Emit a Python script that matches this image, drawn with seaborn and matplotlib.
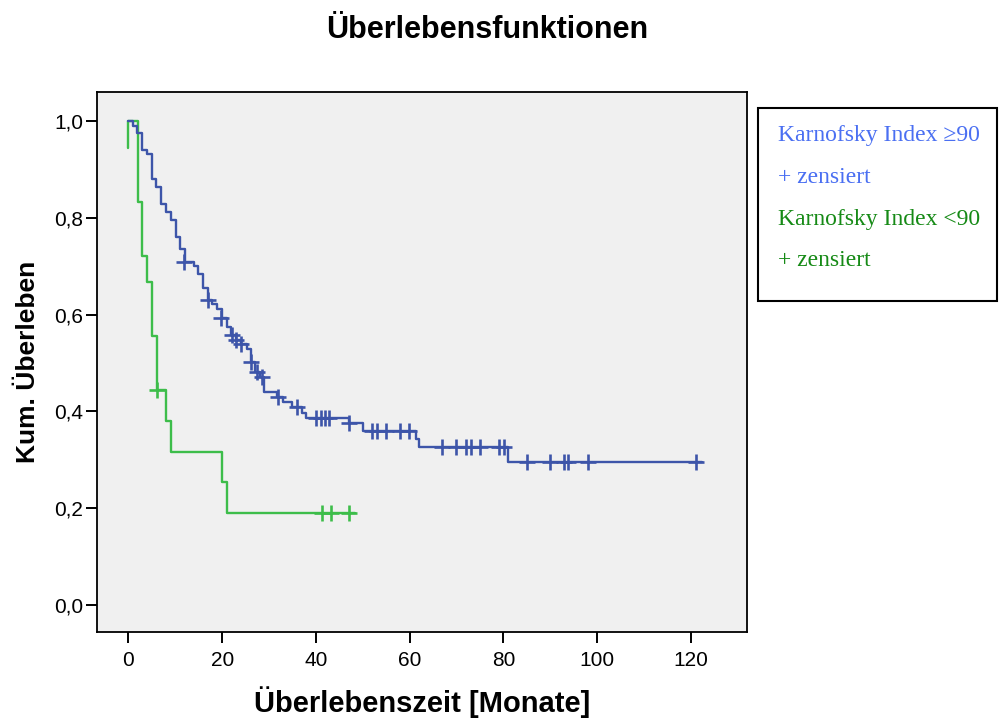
import matplotlib
matplotlib.use("Agg")
import matplotlib.pyplot as plt
from matplotlib.patches import Rectangle
import seaborn as sns
import pandas as pd

# Kaplan-Meier step curve, Karnofsky Index >= 90 (time in months, cumulative survival)
high_time = [0, 0.9, 1.9, 3.0, 3.9, 5.0, 5.9, 6.9, 8.0, 9.1, 10.1, 11.1, 12.0, 13.9, 14.8,
             15.9, 16.9, 17.9, 19.0, 20.0, 21.0, 21.9, 23.0, 24.0, 25.2, 26.1, 27.0, 28.0,
             29.0, 31.8, 32.9, 34.9, 37.0, 38.0, 47.1, 50.0, 61.4, 62.0, 81.1, 122.4]
high_surv = [1.0, 0.990, 0.976, 0.941, 0.932, 0.880, 0.863, 0.829, 0.812, 0.795, 0.760, 0.735,
             0.709, 0.700, 0.683, 0.656, 0.630, 0.621, 0.611, 0.592, 0.575, 0.558, 0.548, 0.539,
             0.529, 0.503, 0.482, 0.472, 0.441, 0.430, 0.420, 0.410, 0.397, 0.386, 0.375, 0.360,
             0.343, 0.326, 0.296, 0.296]
# censored observations (+)
high_cens_time = [11.8, 16.9, 19.8, 22.0, 23.0, 24.0, 26.1, 27.5, 28.4, 32.0, 35.9, 40.0, 41.0,
                  41.9, 42.9, 47.1, 52.0, 53.0, 55.0, 58.0, 59.9, 67.0, 70.0, 72.1, 73.0, 75.0,
                  79.1, 80.1, 85.0, 90.0, 93.0, 93.9, 98.0, 121.2]
high_cens_surv = [0.709, 0.630, 0.592, 0.558, 0.548, 0.539, 0.503, 0.482, 0.472, 0.430, 0.410,
                  0.386, 0.386, 0.386, 0.386, 0.375, 0.360, 0.360, 0.360, 0.360, 0.360, 0.326,
                  0.326, 0.326, 0.326, 0.326, 0.326, 0.326, 0.296, 0.296, 0.296, 0.296, 0.296,
                  0.296]

# Kaplan-Meier step curve, Karnofsky Index < 90
low_time = [0, 0, 2.0, 3.0, 4.0, 5.0, 6.0, 8.0, 9.0, 20.0, 21.0, 48.4]
low_surv = [0.944, 1.0, 0.833, 0.722, 0.667, 0.556, 0.444, 0.381, 0.317, 0.254, 0.190, 0.190]
low_cens_time = [6.0, 41.3, 43.2, 47.1]
low_cens_surv = [0.444, 0.190, 0.190, 0.190]

x_ticks = [0, 20, 40, 60, 80, 100, 120]
y_ticks = [0.0, 0.2, 0.4, 0.6, 0.8, 1.0]
y_tick_labels = ["0,0", "0,2", "0,4", "0,6", "0,8", "1,0"]
legend_labels = ["Karnofsky Index \u226590", "+ zensiert", "Karnofsky Index <90", "+ zensiert"]

line_high = "#3d55a9"
line_low = "#3dbd4a"
text_high = "#4a6ff2"
text_low = "#168a16"

sns.set_style("white")
plt.rcParams["font.family"] = ["Liberation Sans", "DejaVu Sans"]
plt.rcParams["text.color"] = "black"
plt.rcParams["axes.labelcolor"] = "black"

fig = plt.figure(figsize=(10.01, 7.19), dpi=100)
ax = fig.add_axes([0.0969, 0.121, 0.6494, 0.751])
ax.set_facecolor("#f0f0f0")

high_df = pd.DataFrame({"t": high_time, "s": high_surv})
low_df = pd.DataFrame({"t": low_time, "s": low_surv})
sns.lineplot(data=low_df, x="t", y="s", drawstyle="steps-post", estimator=None, sort=False,
             color=line_low, linewidth=1.7, ax=ax)
sns.lineplot(data=high_df, x="t", y="s", drawstyle="steps-post", estimator=None, sort=False,
             color=line_high, linewidth=1.7, ax=ax)

sns.scatterplot(x=high_cens_time, y=high_cens_surv, marker="+", s=120, color=line_high,
                linewidth=1.9, ax=ax, zorder=3)
sns.scatterplot(x=low_cens_time, y=low_cens_surv, marker="+", s=120, color=line_low,
                linewidth=1.9, ax=ax, zorder=3)

ax.set_xlim(-6.7, 132.0)
ax.set_ylim(-0.056, 1.06)
ax.set_xticks(x_ticks)
ax.set_xticklabels([str(v) for v in x_ticks])
ax.set_yticks(y_ticks)
ax.set_yticklabels(y_tick_labels)
ax.tick_params(axis="both", which="major", bottom=True, left=True, top=False, right=False,
               direction="out", length=8, width=1.4, color="black", labelcolor="black",
               labelsize=15, pad=2)
ax.tick_params(axis="x", pad=6)
for side in ["left", "right", "top", "bottom"]:
    ax.spines[side].set_visible(True)
    ax.spines[side].set_color("black")
    ax.spines[side].set_linewidth(1.3)

ax.set_xlabel("\u00dcberlebenszeit [Monate]", fontsize=21, fontweight="bold", labelpad=11)
ax.set_ylabel("Kum. \u00dcberleben", fontsize=19, fontweight="bold", labelpad=10)

fig.text(0.487, 0.958, "\u00dcberlebensfunktionen", ha="center", va="center",
         fontsize=22, fontweight="bold")

# legend box with coloured labels
fig.patches.append(Rectangle((758 / 1001, 1 - 301 / 719), 239 / 1001, 193 / 719,
                             transform=fig.transFigure, facecolor="white",
                             edgecolor="black", linewidth=1.5))
legend_colors = [text_high, text_high, text_low, text_low]
for i, (lab, col) in enumerate(zip(legend_labels, legend_colors)):
    fig.text(778 / 1001, 1 - (136 + 41.5 * i) / 719, lab, ha="left", va="center",
             fontsize=17, color=col, family=["Liberation Serif", "DejaVu Serif"])

fig.savefig("out.png", dpi=100)
